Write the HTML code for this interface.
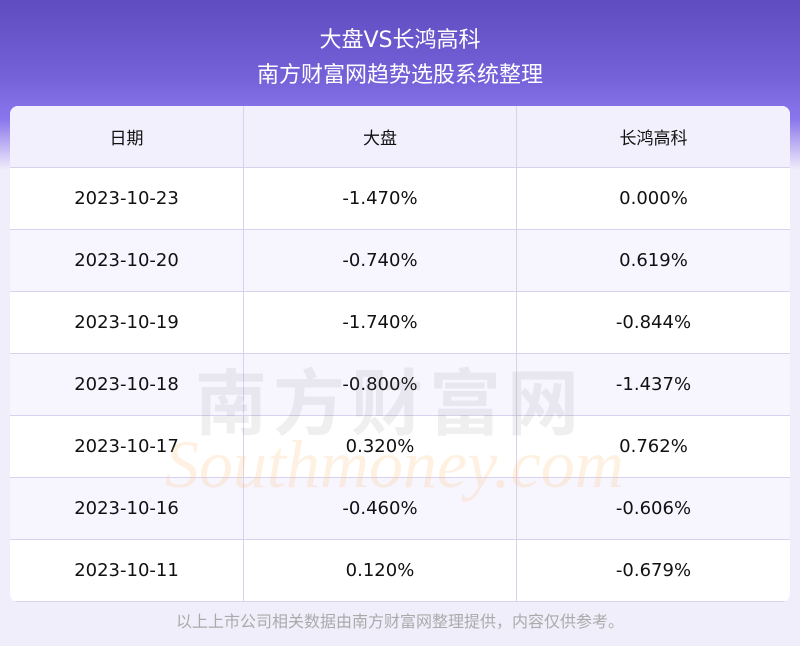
<!DOCTYPE html>
<html><head><meta charset="utf-8"><style>
body{margin:0;width:800px;height:646px;background:#f1eefb;position:relative;overflow:hidden;font-family:"DejaVu Sans","Noto Sans CJK SC",sans-serif}
.hd{position:absolute;left:0;top:0;width:800px;height:170px;background:linear-gradient(180deg,#5f4cc0 0%,#7461d8 45%,#8a76ec 70%,#c8bdf4 88%,#f1eefb 100%)}
.t{position:absolute;left:0;width:800px;text-align:center;color:#fff;font-size:22px}
table{position:absolute;left:10px;top:106px;width:780px;border-collapse:collapse;background:#fff;border-radius:8px;overflow:hidden}
td{height:61px;border:1px solid #d8d2ee;text-align:center;font-size:18px;color:#111;padding:0}
td:first-child{border-left:none}td:last-child{border-right:none}
tr:nth-child(odd) td{background:#f7f5fe}
tr:first-child td{border-top:none;background:#f2f0fd;font-size:17px}
.f{position:absolute;top:608px;left:0;width:800px;text-align:center;color:#aaa;font-size:16px}
.wm{position:absolute;left:195px;top:345px;font-size:72px;color:rgba(120,120,120,0.12);letter-spacing:6px;font-weight:bold}
.wm2{position:absolute;left:165px;top:425px;font-size:68px;color:rgba(250,200,140,0.25);font-family:"Liberation Serif",serif;font-style:italic}
</style></head><body>
<div class="hd"></div>
<div class="t" style="top:22px">大盘VS长鸿高科</div>
<div class="t" style="top:57px">南方财富网趋势选股系统整理</div>
<table>
<tr><td style="width:233px">日期</td><td style="width:272px">大盘</td><td>长鸿高科</td></tr>
<tr><td>2023-10-23</td><td>-1.470%</td><td>0.000%</td></tr>
<tr><td>2023-10-20</td><td>-0.740%</td><td>0.619%</td></tr>
<tr><td>2023-10-19</td><td>-1.740%</td><td>-0.844%</td></tr>
<tr><td>2023-10-18</td><td>-0.800%</td><td>-1.437%</td></tr>
<tr><td>2023-10-17</td><td>0.320%</td><td>0.762%</td></tr>
<tr><td>2023-10-16</td><td>-0.460%</td><td>-0.606%</td></tr>
<tr><td>2023-10-11</td><td>0.120%</td><td>-0.679%</td></tr>
</table>
<div class="wm">南方财富网</div>
<div class="wm2">Southmoney.com</div>
<div class="f">以上上市公司相关数据由南方财富网整理提供，内容仅供参考。</div>
</body></html>
